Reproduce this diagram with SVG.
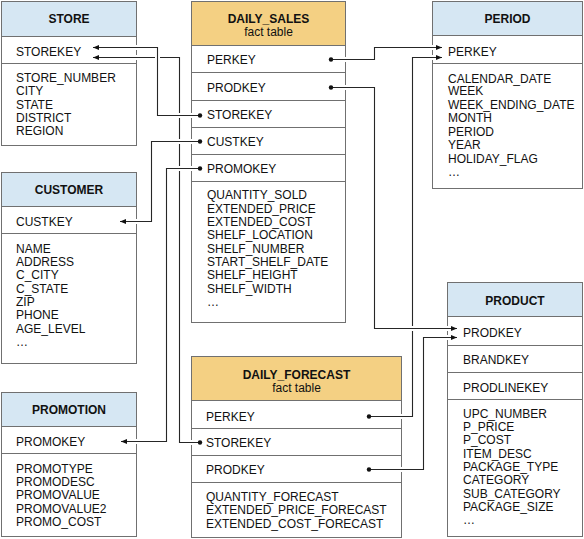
<svg xmlns="http://www.w3.org/2000/svg" width="584" height="539" viewBox="0 0 584 539">
<style>
text{font-family:"Liberation Sans",Arial,sans-serif;font-size:12px;fill:#111}
.t{font-weight:bold;text-anchor:middle}
.s{text-anchor:middle}
.box{fill:#fff;stroke:#707070;stroke-width:1}
.dim{fill:#d6e7f3}
.fact{fill:#f4d083}
.div{stroke:#707070;stroke-width:1;fill:none}
.halo{fill:none;stroke:#fff;stroke-width:5}
.wire{fill:none;stroke:#262626;stroke-width:1.1;marker-start:url(#dot);marker-end:url(#arr)}
</style>
<defs>
<marker id="arr" markerUnits="userSpaceOnUse" markerWidth="7" markerHeight="6" refX="6" refY="3" orient="auto" viewBox="0 0 7 6">
<path d="M0,0.5 L6,3 L0,5.5 z" fill="#111"/>
</marker>
<marker id="dot" markerUnits="userSpaceOnUse" markerWidth="6" markerHeight="6" refX="3" refY="3" viewBox="0 0 6 6">
<circle cx="3" cy="3" r="2.2" fill="#111"/>
</marker>
</defs>
<rect width="584" height="539" fill="#fff"/>

<g id="store">
<rect class="box" x="1.5" y="1.5" width="135" height="144"/>
<rect class="dim" x="2" y="2" width="134" height="34"/>
<path class="div" d="M1.5,36.5H136.5M1.5,63.5H136.5"/>
<text class="t" x="69" y="22.5">STORE</text>
<text x="16" y="55.5">STOREKEY</text>
<text x="16" y="82">STORE_NUMBER</text>
<text x="16" y="95.3">CITY</text>
<text x="16" y="108.7">STATE</text>
<text x="16" y="122">DISTRICT</text>
<text x="16" y="135.3">REGION</text>
</g>

<g id="customer">
<rect class="box" x="1.5" y="172.5" width="135" height="191"/>
<rect class="dim" x="2" y="173" width="134" height="33"/>
<path class="div" d="M1.5,206.5H136.5M1.5,233.5H136.5"/>
<text class="t" x="69" y="193.8">CUSTOMER</text>
<text x="16" y="226">CUSTKEY</text>
<text x="16" y="252.6">NAME</text>
<text x="16" y="266">ADDRESS</text>
<text x="16" y="279.3">C_CITY</text>
<text x="16" y="292.6">C_STATE</text>
<text x="16" y="306">ZIP</text>
<text x="16" y="319.3">PHONE</text>
<text x="16" y="332.6">AGE_LEVEL</text>
<text x="16" y="346">…</text>
</g>

<g id="promotion">
<rect class="box" x="1.5" y="392.5" width="135" height="144"/>
<rect class="dim" x="2" y="393" width="134" height="33"/>
<path class="div" d="M1.5,426.5H136.5M1.5,453.5H136.5"/>
<text class="t" x="69" y="413.6">PROMOTION</text>
<text x="16" y="446">PROMOKEY</text>
<text x="16" y="472.6">PROMOTYPE</text>
<text x="16" y="486">PROMODESC</text>
<text x="16" y="499.3">PROMOVALUE</text>
<text x="16" y="512.6">PROMOVALUE2</text>
<text x="16" y="526">PROMO_COST</text>
</g>

<g id="daily_sales">
<rect class="box" x="191.5" y="1.5" width="154" height="321"/>
<rect class="fact" x="192" y="2" width="153" height="43"/>
<path class="div" d="M191.5,45.5H345.5M191.5,72.5H345.5M191.5,100.5H345.5M191.5,127.5H345.5M191.5,154.5H345.5M191.5,181.5H345.5"/>
<text class="t" x="268.5" y="22.6">DAILY_SALES</text>
<text class="s" x="268.5" y="36.3">fact table</text>
<text x="207" y="64.3">PERKEY</text>
<text x="207" y="91.6">PRODKEY</text>
<text x="207" y="118.6">STOREKEY</text>
<text x="207" y="145.6">CUSTKEY</text>
<text x="207" y="172.6">PROMOKEY</text>
<text x="207" y="199.3">QUANTITY_SOLD</text>
<text x="207" y="212.6">EXTENDED_PRICE</text>
<text x="207" y="226">EXTENDED_COST</text>
<text x="207" y="239.3">SHELF_LOCATION</text>
<text x="207" y="252.6">SHELF_NUMBER</text>
<text x="207" y="266">START_SHELF_DATE</text>
<text x="207" y="279.3">SHELF_HEIGHT</text>
<text x="207" y="292.6">SHELF_WIDTH</text>
<text x="207" y="306">…</text>
</g>

<g id="daily_forecast">
<rect class="box" x="191.5" y="356.5" width="210" height="181"/>
<rect class="fact" x="192" y="357" width="209" height="43"/>
<path class="div" d="M191.5,400.5H401.5M191.5,428.5H401.5M191.5,455.5H401.5M191.5,482.5H401.5"/>
<text class="t" x="296.5" y="378.6">DAILY_FORECAST</text>
<text class="s" x="296.5" y="392">fact table</text>
<text x="206" y="421">PERKEY</text>
<text x="206" y="447.3">STOREKEY</text>
<text x="206" y="473.6">PRODKEY</text>
<text x="206" y="501">QUANTITY_FORECAST</text>
<text x="206" y="514.3">EXTENDED_PRICE_FORECAST</text>
<text x="206" y="527.6">EXTENDED_COST_FORECAST</text>
</g>

<g id="period">
<rect class="box" x="432.5" y="1.5" width="150" height="187"/>
<rect class="dim" x="433" y="2" width="149" height="33"/>
<path class="div" d="M432.5,35.5H582.5M432.5,63.5H582.5"/>
<text class="t" x="507.5" y="22.6">PERIOD</text>
<text x="448" y="55.5">PERKEY</text>
<text x="448" y="82.6">CALENDAR_DATE</text>
<text x="448" y="95.3">WEEK</text>
<text x="448" y="108.6">WEEK_ENDING_DATE</text>
<text x="448" y="122">MONTH</text>
<text x="448" y="135.6">PERIOD</text>
<text x="448" y="148.6">YEAR</text>
<text x="448" y="162.6">HOLIDAY_FLAG</text>
<text x="448" y="176">…</text>
</g>

<g id="product">
<rect class="box" x="447.5" y="282.5" width="135" height="254"/>
<rect class="dim" x="448" y="283" width="134" height="33"/>
<path class="div" d="M447.5,316.5H582.5M447.5,345.5H582.5M447.5,372.5H582.5M447.5,399.5H582.5"/>
<text class="t" x="515" y="305">PRODUCT</text>
<text x="463" y="336.6">PRODKEY</text>
<text x="463" y="364.3">BRANDKEY</text>
<text x="463" y="391.6">PRODLINEKEY</text>
<text x="463" y="417.6">UPC_NUMBER</text>
<text x="463" y="431">P_PRICE</text>
<text x="463" y="444.3">P_COST</text>
<text x="463" y="457.6">ITEM_DESC</text>
<text x="463" y="471">PACKAGE_TYPE</text>
<text x="463" y="484.3">CATEGORY</text>
<text x="463" y="497.6">SUB_CATEGORY</text>
<text x="463" y="511">PACKAGE_SIZE</text>
<text x="463" y="524.3">…</text>
</g>

<g id="connectors">
<path class="halo" d="M200,442.5H179.5V57.5H99"/>
<path class="wire" d="M200,442.5H179.5V57.5H93"/>
<path class="halo" d="M200,115.5H157.5V47.5H99"/>
<path class="wire" d="M200,115.5H157.5V47.5H93"/>
<path class="halo" d="M200,141.5H151.5V221.5H126"/>
<path class="wire" d="M200,141.5H151.5V221.5H120"/>
<path class="halo" d="M200,168.5H166.5V441.5H127"/>
<path class="wire" d="M200,168.5H166.5V441.5H121"/>
<path class="halo" d="M369,416.5H412.5V57.5H436"/>
<path class="wire" d="M369,416.5H412.5V57.5H442"/>
<path class="halo" d="M369,469.5H423.5V337.5H451"/>
<path class="wire" d="M369,469.5H423.5V337.5H457"/>
<path class="halo" d="M331,59.5H374.5V47.5H436"/>
<path class="wire" d="M331,59.5H374.5V47.5H442"/>
<path class="halo" d="M331,87.5H374.5V328.5H451"/>
<path class="wire" d="M331,87.5H374.5V328.5H457"/>
</g>
</svg>
